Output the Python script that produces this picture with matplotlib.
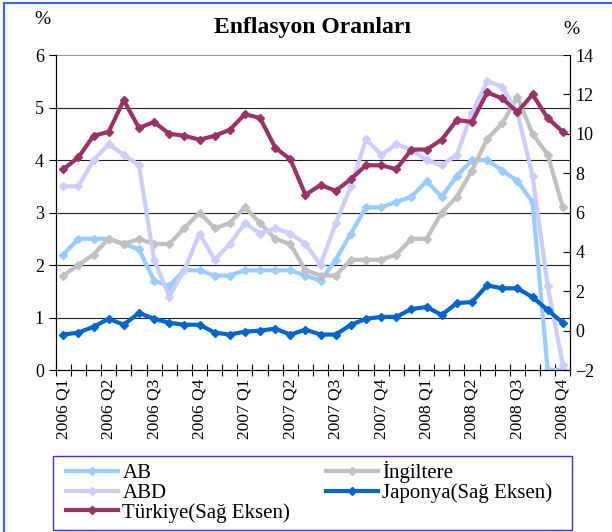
import numpy as np
import matplotlib
matplotlib.use("Agg")
from matplotlib import pyplot as plt
from matplotlib.lines import Line2D
from matplotlib.patches import Rectangle

plt.rcParams['font.family'] = ['Liberation Serif', 'DejaVu Serif']

# monthly, 2006 Mar .. 2008 Dec
N_POINTS = 34
TICK_LABELS = ["2006 Q1", "2006 Q2", "2006 Q3", "2006 Q4",
               "2007 Q1", "2007 Q2", "2007 Q3", "2007 Q4",
               "2008 Q1", "2008 Q2", "2008 Q3", "2008 Q4"]

# left axis
ab = [2.2, 2.5, 2.5, 2.5, 2.4, 2.3, 1.7, 1.6, 1.9, 1.9, 1.8, 1.8,
      1.9, 1.9, 1.9, 1.9, 1.8, 1.7, 2.1, 2.6, 3.1, 3.1, 3.2, 3.3,
      3.6, 3.3, 3.7, 4.0, 4.0, 3.8, 3.6, 3.2, 0.0, 0.0]
ingiltere = [1.8, 2.0, 2.2, 2.5, 2.4, 2.5, 2.4, 2.4, 2.7, 3.0, 2.7, 2.8,
             3.1, 2.8, 2.5, 2.4, 1.9, 1.8, 1.8, 2.1, 2.1, 2.1, 2.2, 2.5,
             2.5, 3.0, 3.3, 3.8, 4.4, 4.7, 5.2, 4.5, 4.1, 3.1]
abd = [3.5, 3.5, 4.0, 4.3, 4.1, 3.9, 2.1, 1.4, 1.9, 2.6, 2.1, 2.4,
       2.8, 2.6, 2.7, 2.6, 2.4, 2.0, 2.8, 3.5, 4.4, 4.1, 4.3, 4.2,
       4.0, 3.9, 4.1, 4.9, 5.5, 5.4, 4.9, 3.7, 1.6, 0.1]

# right axis
japonya = [-0.2, -0.1, 0.2, 0.6, 0.3, 0.9, 0.6, 0.4, 0.3, 0.3, -0.1, -0.2,
           -0.05, 0.0, 0.1, -0.2, 0.05, -0.2, -0.2, 0.3, 0.6, 0.7, 0.7, 1.1,
           1.2, 0.8, 1.4, 1.45, 2.3, 2.15, 2.15, 1.7, 1.05, 0.4]
turkiye = [8.2, 8.8, 9.9, 10.1, 11.7, 10.3, 10.6, 10.0, 9.9, 9.7, 9.9, 10.2,
           11.0, 10.8, 9.3, 8.7, 6.9, 7.4, 7.1, 7.7, 8.4, 8.4, 8.2, 9.2,
           9.2, 9.7, 10.7, 10.6, 12.1, 11.8, 11.1, 12.0, 10.8, 10.1]

x = np.arange(N_POINTS)

fig = plt.figure(figsize=(6.12, 5.32), dpi=100)
ax = fig.add_axes([0.091, 0.3045, 0.841, 0.592])
ax2 = ax.twinx()

lw = 3.0
ms = 4.5
l_ab, = ax.plot(x, ab, color="#99CCFF", lw=lw, marker="D", ms=ms, label="AB", zorder=3)
l_ing, = ax.plot(x, ingiltere, color="#C0C0C0", lw=lw, marker="D", ms=ms, label="İngiltere", zorder=3)
l_abd, = ax.plot(x, abd, color="#CCCCFF", lw=lw, marker="D", ms=ms, label="ABD", zorder=3)
l_jap, = ax2.plot(x, japonya, color="#0066CC", lw=lw, marker="D", ms=ms, label="Japonya(Sağ Eksen)")
l_tur, = ax2.plot(x, turkiye, color="#993366", lw=lw, marker="D", ms=ms, label="Türkiye(Sağ Eksen)")

ax.set_xlim(-0.5, N_POINTS - 0.5)
ax.set_ylim(0, 6)
ax2.set_ylim(-2, 14)

ax.set_yticks(range(0, 7))
ax2.set_yticks(range(-2, 15, 2))
ax.set_xticks(range(0, N_POINTS, 3))
ax.set_xticklabels(TICK_LABELS, rotation=90, fontsize=12.5)
ax.set_xticks(np.arange(-0.5, N_POINTS, 1), minor=True)
ax.tick_params(axis="x", which="major", length=0, pad=6)
ax.tick_params(axis="x", which="minor", direction="inout", length=8, width=0.8)
ax.tick_params(axis="y", direction="out", length=5, width=0.8, labelsize=13)
ax2.tick_params(axis="y", direction="in", length=5, width=0.8, labelsize=13)

for y in range(1, 6):
    ax.axhline(y, color="#222222", lw=0.8, zorder=1)
ax.axhline(6, color="#808080", lw=1.2, zorder=1)

for a in (ax, ax2):
    a.spines["top"].set_visible(False)
    a.spines["left"].set_linewidth(0.8)
    a.spines["right"].set_linewidth(0.8)
    a.spines["bottom"].set_linewidth(0.8)

fig.text(313 / 612, 1 - 27 / 532, "Enflasyon Oranları", ha="center", va="center",
         fontsize=17, fontweight="bold")
fig.text(42 / 612, 1 - 20 / 532, "%", ha="center", va="center", fontsize=14)
fig.text(571 / 612, 1 - 30 / 532, "%", ha="center", va="center", fontsize=14)

# outer frame
fig.add_artist(Line2D([4 / 612, 4 / 612], [0, 1 - 3 / 532], transform=fig.transFigure,
                      color="#3366FF", lw=1.5))
fig.add_artist(Line2D([4 / 612, 1], [1 - 3 / 532, 1 - 3 / 532], transform=fig.transFigure,
                      color="#3366FF", lw=1.5))

# legend box
fig.add_artist(Rectangle((53 / 612, 2 / 532), 519 / 612, 74 / 532, transform=fig.transFigure,
                         facecolor="white", edgecolor="#3333FF", lw=1.0))
leg = fig.legend(handles=[l_ab, l_abd, l_tur, l_ing, l_jap], ncol=2,
                 loc="center left", bbox_to_anchor=(62 / 612, 1 - 492 / 532),
                 fontsize=15, handlelength=2.5, handletextpad=0.2, columnspacing=1.7,
                 labelspacing=0.0, borderaxespad=0.0, frameon=False, borderpad=0.2)

fig.savefig("out.png", dpi=100)
